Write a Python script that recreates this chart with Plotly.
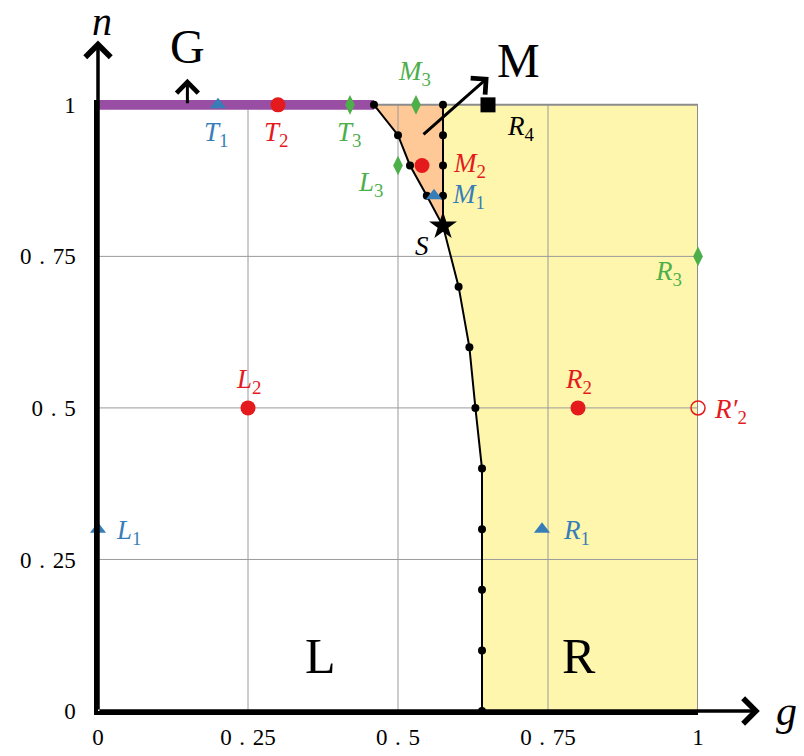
import plotly.graph_objects as go

# phase boundary (black line with dots), from g-axis up to S
bnd_g = [0.64, 0.64, 0.64, 0.64, 0.64, 0.629, 0.619, 0.601, 0.575]
bnd_n = [0.0, 0.1, 0.2, 0.3, 0.4, 0.5, 0.6, 0.7, 0.8]
# left edge of the orange triangle (S up to the top)
tri_g = [0.575, 0.548, 0.52, 0.5, 0.46]
tri_n = [0.8, 0.85, 0.9, 0.95, 1.0]
# right edge of the triangle
vert_g = [0.575, 0.575, 0.575, 0.575, 0.575]
vert_n = [0.8, 0.85, 0.9, 0.95, 1.0]

# named points
pt_names = ["T1", "T2", "T3", "M3", "R4", "L3", "M2", "M1", "R3", "L2", "R2", "R2p", "L1", "R1"]
pt_g = [0.2, 0.3, 0.42, 0.53, 0.65, 0.5, 0.54, 0.56, 1.0, 0.25, 0.8, 1.0, 0.0, 0.74]
pt_n = [1.0, 1.0, 1.0, 1.0, 1.0, 0.9, 0.9, 0.85, 0.75, 0.5, 0.5, 0.5, 0.3, 0.3]

ticks = [0, 0.25, 0.5, 0.75, 1]
tick_text = ["0", "0\u2004.\u200425", "0\u2004.\u20045", "0\u2004.\u200475", "1"]

BLUE, RED, GREEN, PURPLE = "#377eb8", "#e41a1c", "#4daf4a", "#984ea3"
FONT = "Liberation Serif"
Y_TOP = 1.008

style = {
    "T1": ("triangle-up", BLUE, 14), "T2": ("circle", RED, 15), "T3": ("diamond-tall", GREEN, 14),
    "M3": ("diamond-tall", GREEN, 14), "R4": ("square", "black", 15), "L3": ("diamond-tall", GREEN, 14),
    "M2": ("circle", RED, 15), "M1": ("triangle-up", BLUE, 14), "R3": ("diamond-tall", GREEN, 14),
    "L2": ("circle", RED, 15), "R2": ("circle", RED, 15), "R2p": ("circle-open", RED, 14),
    "L1": ("triangle-up", BLUE, 14), "R1": ("triangle-up", BLUE, 14),
}

fig = go.Figure()

# yellow region R (right of the boundary)
fig.add_trace(go.Scatter(
    x=[1, 1] + bnd_g + vert_g[1:], y=[1, 0] + bnd_n + vert_n[1:],
    fill="toself", fillcolor="#fff6ae", line=dict(width=0), mode="lines"))
# orange triangle
fig.add_trace(go.Scatter(
    x=tri_g + [vert_g[-1]], y=tri_n + [vert_n[-1]],
    fill="toself", fillcolor="#fec996", line=dict(width=0), mode="lines"))

# grid lines over the fills
gx, gy = [], []
for t in ticks[1:-1]:
    gx += [t, t, None, 0, 1, None]
    gy += [0, 1, None, t, t, None]
fig.add_trace(go.Scatter(x=gx, y=gy, mode="lines", line=dict(color="#9a9a9a", width=1)))
# gray frame (top and right)
fig.add_trace(go.Scatter(x=[0, 1, 1], y=[1, 1, 0], mode="lines", line=dict(color="#8c8c8c", width=2)))

# purple line along n = 1
fig.add_trace(go.Scatter(x=[0, tri_g[-1]], y=[1, 1], mode="lines", line=dict(color=PURPLE, width=10)))

# boundary lines
fig.add_trace(go.Scatter(x=bnd_g + tri_g[1:], y=bnd_n + tri_n[1:], mode="lines+markers",
                         line=dict(color="black", width=2), marker=dict(size=8, color="black"),
                         cliponaxis=False))
fig.add_trace(go.Scatter(x=vert_g, y=vert_n, mode="lines+markers",
                         line=dict(color="black", width=2), marker=dict(size=8, color="black"),
                         cliponaxis=False))
# S
fig.add_trace(go.Scatter(x=[bnd_g[-1]], y=[bnd_n[-1]], mode="markers",
                         marker=dict(symbol="star", size=21, color="black"), cliponaxis=False))

for name, g, n in zip(pt_names, pt_g, pt_n):
    s, c, sz = style[name]
    fig.add_trace(go.Scatter(x=[g], y=[n], mode="markers", cliponaxis=False,
                             marker=dict(symbol=s, color=c, size=sz,
                                         line=dict(color=c, width=1.5 if s == "circle-open" else 0))))

ann = []


def lab(text, g, n, color="black", size=27, xanchor="center"):
    ann.append(dict(text=text, x=g, y=n / Y_TOP, xref="paper", yref="paper", showarrow=False,
                    xanchor=xanchor, yanchor="middle", font=dict(family=FONT, size=size, color=color)))


lab("<i>T</i><sub>1</sub>", 0.197, 0.952, BLUE)
lab("<i>T</i><sub>2</sub>", 0.296, 0.952, RED)
lab("<i>T</i><sub>3</sub>", 0.419, 0.952, GREEN)
lab("<i>M</i><sub>3</sub>", 0.527, 1.053, GREEN)
lab("<i>R</i><sub>4</sub>", 0.705, 0.962)
lab("<i>L</i><sub>3</sub>", 0.454, 0.87, GREEN)
lab("<i>M</i><sub>2</sub>", 0.589, 0.9, RED, xanchor="left")
lab("<i>M</i><sub>1</sub>", 0.586, 0.85, BLUE, xanchor="left")
lab("<i>S</i>", 0.54, 0.767)
lab("<i>R</i><sub>3</sub>", 0.95, 0.723, GREEN)
lab("<i>L</i><sub>2</sub>", 0.25, 0.545, RED)
lab("<i>R</i><sub>2</sub>", 0.8, 0.545, RED)
lab("<i>R′</i><sub>2</sub>", 1.023, 0.495, RED, xanchor="left")
lab("<i>L</i><sub>1</sub>", 0.026, 0.295, BLUE, xanchor="left")
lab("<i>R</i><sub>1</sub>", 0.772, 0.295, BLUE, xanchor="left")

lab("L", 0.371, 0.091, size=50)
lab("R", 0.801, 0.091, size=50)
lab("G", 0.149, 1.097, size=48)
lab("M", 0.70, 1.073, size=48)
lab("<i>n</i>", 0.007, 1.138, size=40)
lab("<i>g</i>", 1.148, 0.0, size=42)


def arrow(g0, n0, g1, n1, width=3):
    ann.append(dict(x=g1, y=n1, ax=g0, ay=n0, xref="x", yref="y", axref="x", ayref="y",
                    text="", showarrow=True, arrowhead=4, arrowsize=1.4, arrowwidth=width,
                    arrowcolor="black"))


arrow(0, 0, 1.103, 0, 3.5)        # g axis
arrow(0, 0, 0, 1.106, 3.5)        # n axis
arrow(0.149, 1.0, 0.149, 1.043)   # G
arrow(0.54, 0.949, 0.651, 1.046)  # M

fig.update_layout(
    width=804, height=756,
    margin=dict(l=86, r=114, t=92, b=53),
    plot_bgcolor="white", paper_bgcolor="white",
    showlegend=False, hovermode=False,
    annotations=ann,
    font=dict(family=FONT, size=23, color="black"),
)
fig.update_xaxes(range=[0, 1], tickvals=ticks, ticktext=tick_text, showgrid=False, zeroline=False,
                 showline=True, linecolor="black", linewidth=3.5, ticks="outside", ticklen=3,
                 tickcolor="rgba(0,0,0,0)", tickfont=dict(size=23))
fig.update_yaxes(range=[0, Y_TOP], tickvals=ticks, ticktext=tick_text, showgrid=False, zeroline=False,
                 showline=True, linecolor="black", linewidth=3.5, ticks="outside", ticklen=14,
                 tickcolor="rgba(0,0,0,0)", tickfont=dict(size=23))

fig.write_html("out.html")
